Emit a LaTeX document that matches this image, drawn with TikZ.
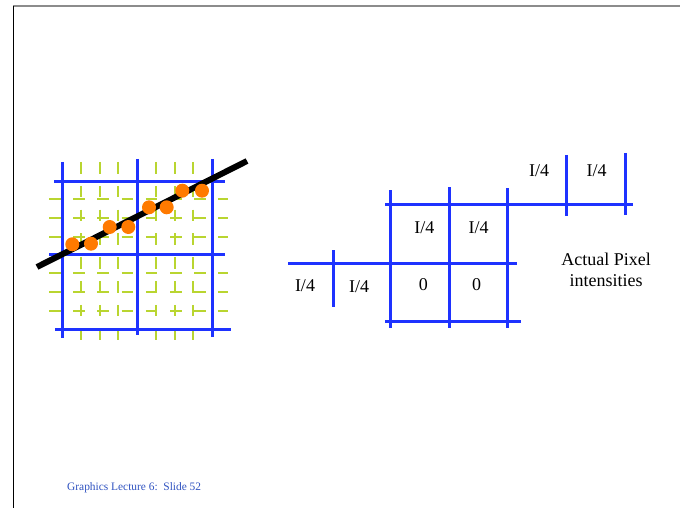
\documentclass[tikz,border=0pt]{standalone}
\usepackage{fontspec}
\setmainfont{Liberation Serif}
\usepackage{xcolor}
\usepackage{tikz}
\definecolor{PixBlue}{HTML}{1E32FF}
\definecolor{PixGreen}{HTML}{B9D530}
\definecolor{PixOrange}{HTML}{FF7A00}
\definecolor{PixFrame}{HTML}{8C8C8C}
\definecolor{PixFoot}{HTML}{2F52C0}

\begin{document}
\begin{tikzpicture}[x=1pt,y=-1pt,
  bluegrid/.style={PixBlue,line width=3pt},
  subgrid/.style={PixGreen,line width=2pt},
  pixlabel/.style={anchor=base,inner sep=0pt,font=\fontsize{18}{21}\selectfont}]
\path[use as bounding box] (0,0) rectangle (680,508);
\draw[PixFrame,line width=2pt] (13,6.5) -- (680,6.5);
\draw[black,line width=0.8pt] (13,6.5) -- (13,508);
\foreach \gx in {81,99.5,118,156,174.5,193}
  \draw[subgrid,dash pattern=on 11.5pt off 12.3pt] (\gx,162) -- (\gx,340);
\foreach \gy in {199,218,236.5,273,292,311}
  \draw[subgrid,dash pattern=on 11.5pt off 12.7pt] (49,\gy) -- (228,\gy);
\draw[bluegrid] (62,162) -- (62,338);
\draw[bluegrid] (137,159) -- (137,335);
\draw[bluegrid] (212,159) -- (212,337);
\draw[bluegrid] (54,181) -- (225,181);
\draw[bluegrid] (49,254) -- (225,254);
\draw[bluegrid] (55,329) -- (231,329);
\draw[black,line width=6pt] (37,267) -- (247,161);
\foreach \dx/\dy in {72.3/244.3,91/243.7,109.7/227,128.3/227,149/207.3,166.7/207.3,182.3/190.7,202/190.7}
  \fill[PixOrange] (\dx,\dy) circle (7);
\draw[bluegrid] (385,204) -- (633,204);
\draw[bluegrid] (288,263.5) -- (517,263.5);
\draw[bluegrid] (385,321.5) -- (521,321.5);
\draw[bluegrid] (390,190) -- (390,328);
\draw[bluegrid] (449.5,187) -- (449.5,328);
\draw[bluegrid] (507.5,188) -- (507.5,328);
\draw[bluegrid] (333.5,250) -- (333.5,307);
\draw[bluegrid] (566,155) -- (566,216);
\draw[bluegrid] (625,153) -- (625,215);
\node[pixlabel] (topA) at (539,176.7) {I/4};
\node[pixlabel] (topB) at (596.7,176.5) {I/4};
\node[pixlabel] (midA) at (424.3,233.3) {I/4};
\node[pixlabel] (midB) at (478.7,233) {I/4};
\node[pixlabel] (lowA) at (305,291.5) {I/4};
\node[pixlabel] (lowB) at (359,292) {I/4};
\node[pixlabel] (zeroA) at (423.3,290.5) {0};
\node[pixlabel] (zeroB) at (476.7,290.5) {0};
\node[pixlabel,align=center] (caption) at (606,286.7) {Actual Pixel\\intensities};
\node[anchor=base west,inner sep=0pt,font=\fontsize{11.4}{13}\selectfont,text=PixFoot] (footer) at (67,490.5) {Graphics Lecture 6:\ \ Slide 52};
\end{tikzpicture}
\end{document}
